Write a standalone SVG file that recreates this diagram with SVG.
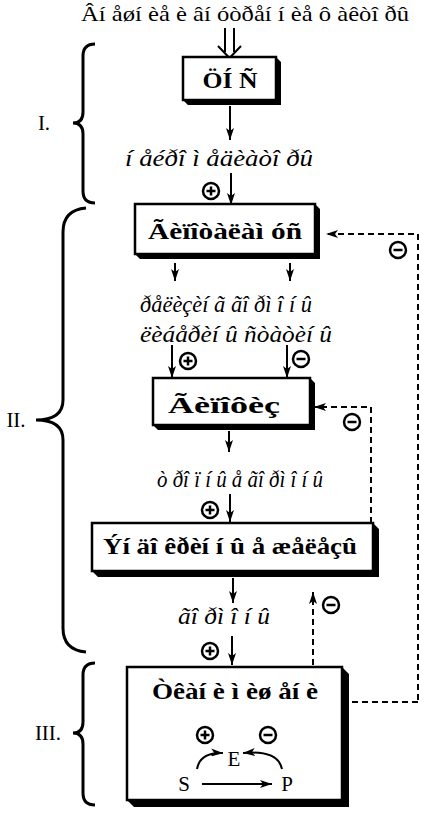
<svg xmlns="http://www.w3.org/2000/svg" width="425" height="821" viewBox="0 0 425 821">
<style>
text{font-family:"Liberation Serif","DejaVu Serif",serif;fill:#000}
.t{font-size:21px}
.i{font-size:23px;font-style:italic}
.b{font-size:24px;font-weight:bold}
.box{fill:#fff;stroke:#000;stroke-width:2.5}
.sh{fill:#000}
.ln{stroke:#000;stroke-width:2;fill:none}
.ds{stroke:#000;stroke-width:2;fill:none;stroke-dasharray:6,4}
.br{stroke:#000;stroke-width:3;fill:none}
.sg{fill:#fff;stroke:#000;stroke-width:2.5}
</style>
<defs>
<marker id="ah" viewBox="0 0 12 8" refX="12" refY="4" markerWidth="12" markerHeight="8" markerUnits="userSpaceOnUse" orient="auto">
<path d="M0,0 L12,4 L0,8 L3,4 z" fill="#000"/>
</marker>
<g id="plus"><circle r="8" class="sg"/><path d="M-4.5,0 H4.5 M0,-4.5 V4.5" stroke="#000" stroke-width="2.5"/></g>
<g id="minus"><circle r="8" class="sg"/><path d="M-4.5,0 H4.5" stroke="#000" stroke-width="2.5"/></g>
</defs>

<text class="t" x="245" y="21" text-anchor="middle" textLength="328" lengthAdjust="spacingAndGlyphs">Âí åøí èå è âí óòðåí í èå ô àêòî ðû</text>

<g id="braces">
<path class="br" d="M95,44 Q83,44 83,56 V112 Q83,123 73,123 Q83,123 83,134 V191 Q83,203 95,203"/>
<text class="t" x="44" y="130" text-anchor="middle">I.</text>
<path class="br" d="M86,208 Q63,210 63,232 V400 Q63,420 36,420 Q63,420 63,440 V628 Q63,650 86,652"/>
<text class="t" x="16" y="427" text-anchor="middle">II.</text>
<path class="br" d="M95,663 Q83,663 83,675 V722 Q83,733 73,733 Q83,733 83,744 V793 Q83,805 95,805"/>
<text class="t" x="48" y="740" text-anchor="middle">III.</text>
</g>

<g id="connectors">
<path class="ln" d="M225,28 V52 M234,28 V52"/>
<path class="ln" d="M218,46 L229.5,58 L241,46" stroke-width="2.5"/>
<path class="ln" d="M230,106 V140" marker-end="url(#ah)"/>
<path class="ln" d="M231,173 V205" marker-end="url(#ah)"/>
<path class="ds" d="M418,700 V234 H326" marker-end="url(#ah)"/>
<path class="ln" d="M175,263 V281" marker-end="url(#ah)"/>
<path class="ln" d="M290,263 V281" marker-end="url(#ah)"/>
<path class="ln" d="M172,345 V378" marker-end="url(#ah)"/>
<path class="ln" d="M287,345 V378" marker-end="url(#ah)"/>
<path class="ds" d="M371,523 V407 H314" marker-end="url(#ah)"/>
<path class="ln" d="M229,431 V452" marker-end="url(#ah)"/>
<path class="ln" d="M230,494 V522" marker-end="url(#ah)"/>
<path class="ln" d="M233,578 V603" marker-end="url(#ah)"/>
<path class="ln" d="M232,636 V665" marker-end="url(#ah)"/>
<path class="ds" d="M313,665 V592" marker-end="url(#ah)"/>
<path class="ds" d="M352,702 H418"/>
</g>

<g id="node-cns">
<polygon class="sh" points="276,57 281,62 281,105 188,105 183,100 276,100"/>
<rect class="box" x="183" y="57" width="93" height="43"/>
<text class="b" x="230" y="88" text-anchor="middle" textLength="55" lengthAdjust="spacingAndGlyphs">ÖÍ Ñ</text>
</g>

<text class="i" x="219" y="166" text-anchor="middle" textLength="188" lengthAdjust="spacingAndGlyphs">í åéðî ì åäèàòî ðû</text>
<use href="#plus" x="211" y="191"/>

<g id="node-hypothalamus">
<polygon class="sh" points="315,204 320,209 320,259 140,259 135,254 315,254"/>
<rect class="box" x="135" y="204" width="180" height="50"/>
<text class="b" x="225" y="239" text-anchor="middle" textLength="154" lengthAdjust="spacingAndGlyphs">Ãèïîòàëàì óñ</text>
</g>
<use href="#minus" x="398" y="250"/>

<text class="i" x="226" y="312" text-anchor="middle" textLength="172" lengthAdjust="spacingAndGlyphs">ðåëèçèí ã ãî ðì î í û</text>
<text class="i" x="236" y="342" text-anchor="middle" textLength="192" lengthAdjust="spacingAndGlyphs">ëèáåðèí û  ñòàòèí û</text>
<use href="#plus" x="188" y="361"/>
<use href="#minus" x="301" y="359"/>

<g id="node-pituitary">
<polygon class="sh" points="310,378 315,383 315,430 158,430 153,425 310,425"/>
<rect class="box" x="153" y="378" width="157" height="47"/>
<text class="b" x="224" y="413" text-anchor="middle" textLength="112" lengthAdjust="spacingAndGlyphs">Ãèïîôèç</text>
</g>
<use href="#minus" x="352" y="422"/>

<text class="i" x="240" y="487" text-anchor="middle" textLength="166" lengthAdjust="spacingAndGlyphs">ò ðî ï í û å ãî ðì î í û</text>
<use href="#plus" x="210" y="510"/>

<g id="node-glands">
<polygon class="sh" points="373,523 379,529 379,577 98,577 92,571 373,571"/>
<rect class="box" x="92" y="523" width="281" height="48"/>
<text class="b" x="230" y="554" text-anchor="middle" textLength="254" lengthAdjust="spacingAndGlyphs">Ýí äî êðèí í û å æåëåçû</text>
</g>

<text class="i" x="224" y="624" text-anchor="middle" textLength="92" lengthAdjust="spacingAndGlyphs">ãî ðì î í û</text>
<use href="#plus" x="210" y="651"/>
<use href="#minus" x="331" y="605"/>

<g id="node-tissues">
<polygon class="sh" points="342,667 349,674 349,807 134,807 127,800 342,800"/>
<rect class="box" x="127" y="667" width="215" height="133"/>
<text class="b" x="235" y="699" text-anchor="middle" textLength="166" lengthAdjust="spacingAndGlyphs">Òêàí è ì èø åí è</text>
<use href="#plus" x="205" y="735"/>
<use href="#minus" x="268" y="735"/>
<text class="t" x="234" y="766" text-anchor="middle" font-size="23">E</text>
<text class="t" x="184" y="791" text-anchor="middle" font-size="23">S</text>
<text class="t" x="287" y="791" text-anchor="middle" font-size="23">P</text>
<path class="ln" d="M202,784 H272" stroke-width="2.5" marker-end="url(#ah)"/>
<path class="ln" d="M197,769 Q200,752 223,753" stroke-width="2.5" marker-end="url(#ah)"/>
<path class="ln" d="M282,769 Q278,750 243,753" stroke-width="2.5" marker-end="url(#ah)"/>
</g>
</svg>
